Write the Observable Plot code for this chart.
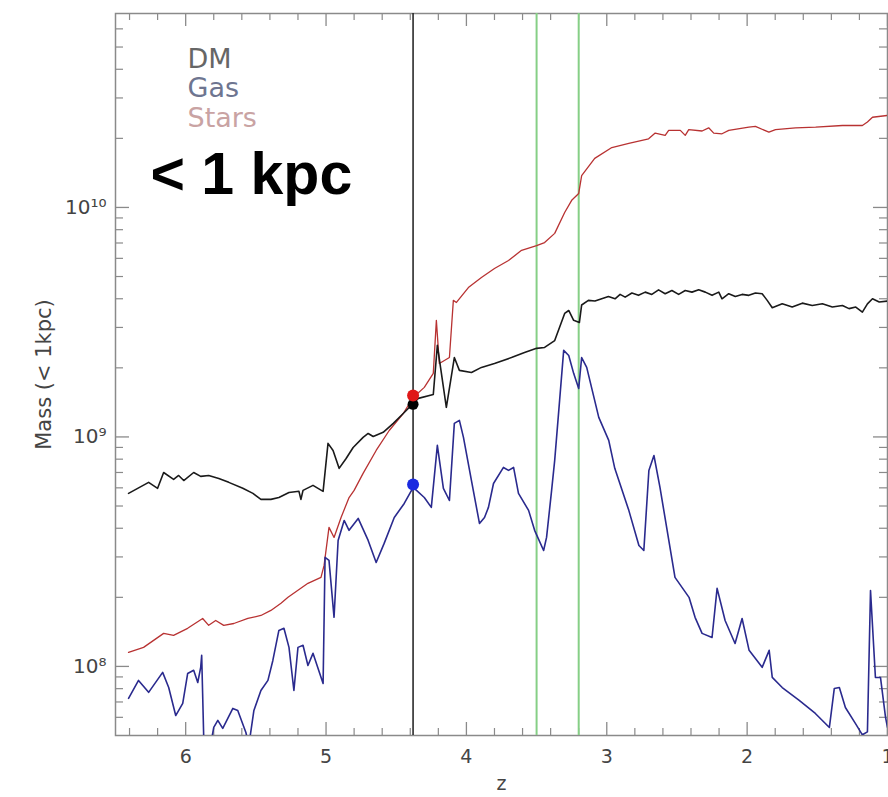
<!DOCTYPE html>
<html><head><meta charset="utf-8">
<script src="https://cdn.jsdelivr.net/npm/d3@7"></script>
<script src="https://cdn.jsdelivr.net/npm/@observablehq/plot@0.6"></script>
<style>
html,body{margin:0;padding:0;background:#fff;}
#chart{width:888px;height:797px;overflow:hidden;}
</style></head><body><div id="chart"></div>
<script>
// ---- data (redshift z, log10 of mass within 1 kpc in solar masses) ----
const dmZ = [6.407,6.264,6.200,6.157,6.086,6.050,6.014,5.943,5.893,5.836,5.764,5.693,5.593,5.521,5.464,5.393,5.336,5.264,5.193,5.179,5.164,5.093,5.021,4.986,4.950,4.907,4.857,4.807,4.736,4.700,4.664,4.593,4.521,4.450,4.379,4.343,4.236,4.207,4.143,4.086,4.050,3.964,3.893,3.800,3.679,3.586,3.500,3.443,3.371,3.300,3.271,3.236,3.195,3.179,3.131,3.084,3.036,2.988,2.941,2.905,2.869,2.821,2.774,2.726,2.679,2.631,2.584,2.536,2.488,2.441,2.393,2.345,2.298,2.250,2.202,2.179,2.131,2.084,2.036,1.988,1.941,1.893,1.857,1.821,1.750,1.679,1.607,1.536,1.464,1.393,1.321,1.274,1.226,1.179,1.143,1.107,1.059,1.000];
const dmLogMass = [8.754,8.802,8.776,8.845,8.815,8.832,8.810,8.845,8.828,8.832,8.819,8.802,8.776,8.754,8.728,8.728,8.736,8.758,8.763,8.728,8.767,8.789,8.763,8.972,8.941,8.863,8.906,8.954,8.998,9.015,9.002,9.020,9.059,9.102,9.146,9.168,9.185,9.399,9.129,9.346,9.290,9.281,9.303,9.320,9.346,9.368,9.386,9.390,9.420,9.538,9.551,9.508,9.499,9.575,9.595,9.592,9.602,9.612,9.602,9.621,9.609,9.627,9.617,9.631,9.621,9.641,9.624,9.638,9.621,9.638,9.631,9.641,9.631,9.617,9.631,9.602,9.624,9.612,9.621,9.617,9.627,9.624,9.595,9.563,9.580,9.566,9.583,9.573,9.580,9.566,9.573,9.559,9.566,9.544,9.580,9.602,9.588,9.592];

const gasZ = [6.407,6.336,6.264,6.164,6.121,6.071,6.021,5.986,5.943,5.914,5.893,5.886,5.871,5.843,5.800,5.771,5.736,5.664,5.629,5.571,5.550,5.514,5.464,5.414,5.379,5.336,5.300,5.264,5.229,5.200,5.164,5.129,5.093,5.021,5.007,4.979,4.943,4.914,4.871,4.836,4.771,4.700,4.643,4.586,4.514,4.443,4.379,4.300,4.250,4.207,4.164,4.121,4.086,4.050,4.021,3.964,3.907,3.871,3.843,3.807,3.736,3.700,3.664,3.629,3.557,3.514,3.450,3.429,3.393,3.371,3.336,3.307,3.271,3.236,3.200,3.179,3.143,3.057,2.986,2.943,2.843,2.771,2.736,2.700,2.664,2.621,2.514,2.414,2.371,2.321,2.250,2.214,2.157,2.086,2.036,1.986,1.893,1.843,1.821,1.750,1.629,1.514,1.414,1.379,1.343,1.300,1.229,1.179,1.143,1.121,1.086,1.050,1.014,1.000];
const gasLogMass = [7.861,7.939,7.887,7.974,7.908,7.786,7.839,7.969,7.983,7.930,7.996,8.048,7.678,7.590,7.734,7.765,7.730,7.817,7.808,7.712,7.656,7.808,7.895,7.939,8.026,8.157,8.166,8.083,7.895,8.083,8.092,8.004,8.057,7.926,8.475,8.462,8.214,8.549,8.636,8.593,8.645,8.549,8.453,8.536,8.649,8.710,8.780,8.736,8.693,8.963,8.776,8.723,9.059,9.072,8.998,8.810,8.623,8.649,8.693,8.797,8.867,8.854,8.867,8.754,8.680,8.593,8.505,8.562,8.767,8.898,9.159,9.377,9.355,9.277,9.211,9.346,9.303,9.085,8.985,8.863,8.680,8.527,8.505,8.854,8.919,8.780,8.388,8.301,8.214,8.144,8.126,8.340,8.200,8.100,8.209,8.070,7.996,8.070,7.952,7.908,7.852,7.795,7.734,7.904,7.908,7.821,7.752,7.702,7.715,8.331,7.952,7.952,7.778,7.734];

const starZ = [6.407,6.300,6.157,6.086,5.986,5.879,5.836,5.786,5.729,5.657,5.557,5.464,5.393,5.321,5.271,5.129,5.036,5.014,4.979,4.943,4.893,4.836,4.800,4.736,4.643,4.550,4.450,4.379,4.300,4.236,4.214,4.193,4.121,4.093,4.071,3.986,3.893,3.800,3.700,3.607,3.500,3.443,3.371,3.300,3.250,3.200,3.179,3.086,2.964,2.843,2.702,2.655,2.584,2.559,2.476,2.441,2.416,2.321,2.274,2.238,2.179,2.131,1.988,1.941,1.845,1.798,1.655,1.512,1.321,1.179,1.143,1.107,1.000];
const starLogMass = [8.061,8.083,8.144,8.135,8.166,8.209,8.179,8.200,8.179,8.187,8.209,8.222,8.244,8.275,8.301,8.362,8.388,8.440,8.606,8.562,8.649,8.736,8.767,8.841,8.941,9.028,9.102,9.172,9.216,9.277,9.508,9.320,9.346,9.595,9.586,9.651,9.695,9.734,9.769,9.813,9.834,9.847,9.887,9.978,10.031,10.061,10.139,10.214,10.261,10.279,10.299,10.324,10.314,10.336,10.336,10.314,10.339,10.333,10.347,10.324,10.321,10.336,10.350,10.353,10.328,10.339,10.347,10.350,10.357,10.357,10.372,10.393,10.401];

// marked epoch and its three values
const markerZ = 4.38;
const markerSeries = ["DM", "Stars", "Gas"];
const markerLogMass = [9.142, 9.181, 8.793];
// green reference epochs
const greenZ = [3.5, 3.2];

// legend
const legendNames = ["DM", "Gas", "Stars"];

// ticks
const xMajorTicks = [6, 5, 4, 3, 2, 1];
const xMinorTicks = [6.4,6.2,5.8,5.6,5.4,5.2,4.8,4.6,4.4,4.2,3.8,3.6,3.4,3.2,2.8,2.6,2.4,2.2,1.8,1.6,1.4,1.2];
const yMajorTicks = [1e8, 1e9, 1e10];
const yTickLabels = ["10⁸", "10⁹", "10¹⁰"];
const yMinorTicks = [6e7,7e7,8e7,9e7,2e8,3e8,4e8,5e8,6e8,7e8,8e8,9e8,2e9,3e9,4e9,5e9,6e9,7e9,8e9,9e9,2e10,3e10,4e10,5e10,6e10];

// ---- build tables ----
const toRows = (zs, ls) => zs.map((z, i) => ({z, m: Math.pow(10, ls[i])}));
const dm = toRows(dmZ, dmLogMass);
const gas = toRows(gasZ, gasLogMass);
const stars = toRows(starZ, starLogMass);
const markers = markerSeries.map((s, i) => ({s, z: markerZ, m: Math.pow(10, markerLogMass[i])}));

const W = 888, H = 797, mL = 115, mR = 1, mT = 13, mB = 62;
const iW = W - mL - mR, iH = H - mT - mB;
const tickColor = "#8a8a8a";
const colors = {DM: "#1a1a1a", Gas: "#2a2a8e", Stars: "#b83232"};
const legendColors = {DM: "#666666", Gas: "#6e7590", Stars: "#c9a3a3"};
const lightFont = "'DejaVu Sans', 'Liberation Sans', sans-serif";

const chart = Plot.plot({
  width: W, height: H,
  marginLeft: mL, marginRight: mR, marginTop: mT, marginBottom: mB,
  style: {fontFamily: lightFont, color: "#444", background: "#fff"},
  x: {type: "linear", domain: [6.5, 1]},
  y: {type: "log", domain: [5.0e7, 7.0e10]},
  marks: [
    // inward ticks on all four sides
    Plot.tickX(xMajorTicks, {x: d => d, insetTop: iH - 13, stroke: tickColor, strokeWidth: 1.3}),
    Plot.tickX(xMinorTicks, {x: d => d, insetTop: iH - 7, stroke: tickColor, strokeWidth: 1.2}),
    Plot.tickX(xMajorTicks, {x: d => d, insetBottom: iH - 13, stroke: tickColor, strokeWidth: 1.3}),
    Plot.tickX(xMinorTicks, {x: d => d, insetBottom: iH - 7, stroke: tickColor, strokeWidth: 1.2}),
    Plot.tickY(yMajorTicks, {y: d => d, insetRight: iW - 14, stroke: tickColor, strokeWidth: 1.3}),
    Plot.tickY(yMinorTicks, {y: d => d, insetRight: iW - 8, stroke: tickColor, strokeWidth: 1.2}),
    Plot.tickY(yMajorTicks, {y: d => d, insetLeft: iW - 14, stroke: tickColor, strokeWidth: 1.3}),
    Plot.tickY(yMinorTicks, {y: d => d, insetLeft: iW - 8, stroke: tickColor, strokeWidth: 1.2}),
    Plot.frame({stroke: tickColor, strokeWidth: 1.5}),
    Plot.axisX({ticks: xMajorTicks, tickSize: 0, tickPadding: 14, fontSize: 19, label: null, tickFormat: d => String(d)}),
    Plot.axisY({ticks: yMajorTicks, tickSize: 0, tickPadding: 9, fontSize: 20, label: null, tickFormat: d => yTickLabels[yMajorTicks.indexOf(d)]}),
    // reference epochs
    Plot.ruleX(greenZ, {x: d => d, stroke: "#86cf86", strokeWidth: 2}),
    Plot.ruleX([markerZ], {x: d => d, stroke: "#2a2a2a", strokeWidth: 1.6}),
    // series
    Plot.line(stars, {x: "z", y: "m", stroke: colors.Stars, strokeWidth: 1.3, clip: true}),
    Plot.line(gas, {x: "z", y: "m", stroke: colors.Gas, strokeWidth: 1.6, clip: true}),
    Plot.line(dm, {x: "z", y: "m", stroke: colors.DM, strokeWidth: 1.6, clip: true}),
    // markers
    Plot.dot(markers.filter(d => d.s === "DM"), {x: "z", y: "m", r: 5.5, fill: "#000"}),
    Plot.dot(markers.filter(d => d.s === "Stars"), {x: "z", y: "m", r: 6, fill: "#e01818"}),
    Plot.dot(markers.filter(d => d.s === "Gas"), {x: "z", y: "m", r: 6, fill: "#1a2ae0"}),
    // legend
    ...legendNames.map((name, i) => Plot.text([name], {
      text: d => d, frameAnchor: "top-left", dx: 72, dy: 54 + 29.5 * i,
      lineAnchor: "bottom", textAnchor: "start", fontSize: 27, fill: legendColors[name]
    })),
    // big annotation
    Plot.text(["< 1 kpc"], {
      text: d => d, frameAnchor: "top-left", dx: 35, dy: 180, lineAnchor: "bottom", textAnchor: "start",
      fontSize: 59, fontWeight: "bold", fontFamily: "'Liberation Sans', Arial, sans-serif", fill: "#000"
    }),
    // axis titles
    Plot.text(["Mass (< 1kpc)"], {text: d => d, frameAnchor: "left", dx: -71, rotate: -90, textAnchor: "middle", fontSize: 21, fill: "#444"}),
    Plot.text(["z"], {text: d => d, frameAnchor: "bottom", dy: 54, textAnchor: "middle", fontSize: 19, fill: "#444"})
  ]
});
document.getElementById("chart").appendChild(chart);
</script>
</body></html>
